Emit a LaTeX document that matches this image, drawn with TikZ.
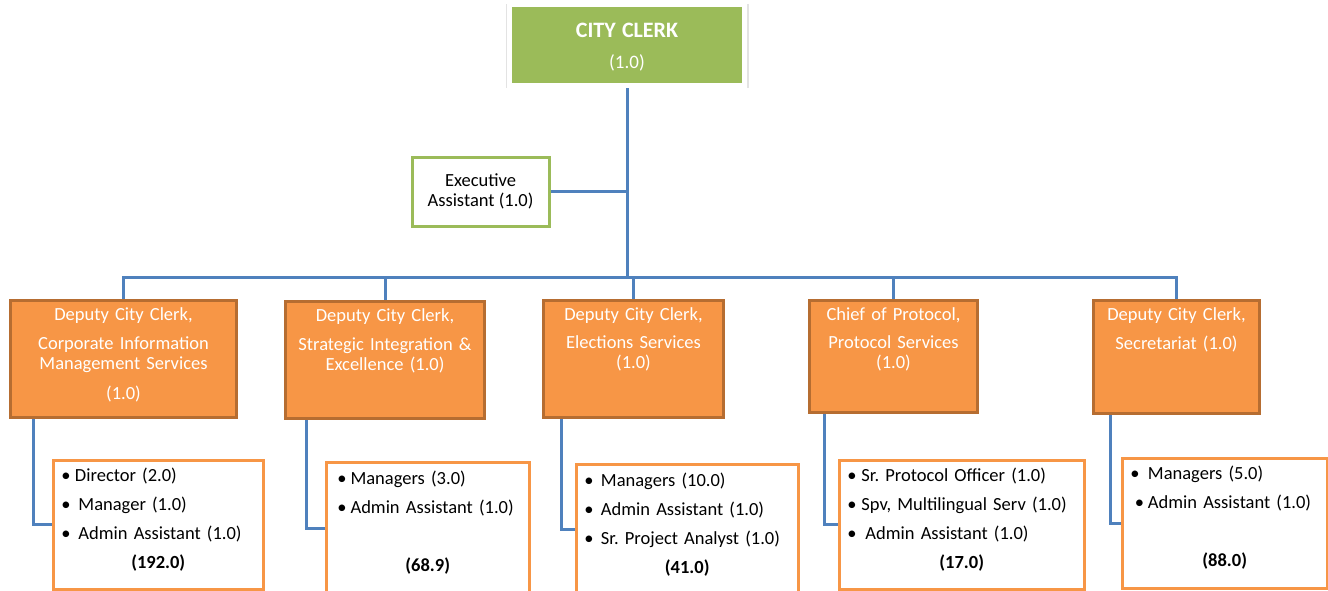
\documentclass[tikz,border=0pt]{standalone}
\usepackage{fontspec}
\setmainfont{Carlito}
\usetikzlibrary{shadows}
\definecolor{clerkgreen}{HTML}{9BBB59}
\definecolor{depfill}{HTML}{F79646}
\definecolor{depline}{HTML}{B66D31}
\definecolor{staffline}{HTML}{F79646}
\definecolor{linkblue}{HTML}{4F81BD}

\begin{document}
\frenchspacing
\begin{tikzpicture}[x=1pt,y=-1pt]
    \tikzstyle{clerk}=[rectangle,fill=clerkgreen,draw=white,line width=5pt,inner sep=0pt,text width=235pt,text height=32.5pt,text depth=48.5pt,text=white,align=center,font=\fontsize{19}{24}\selectfont,drop shadow={shadow scale=1.035,shadow xshift=.8pt,shadow yshift=-1.2pt,opacity=.22}]
    \tikzstyle{exec}=[rectangle,draw=clerkgreen,line width=3pt,fill=white,minimum width=137pt,minimum height=69pt,align=center,font=\fontsize{18.5}{20}\selectfont]
    \tikzstyle{deputy}=[rectangle,draw=depline,fill=depfill,line width=3pt,text=white,align=center,inner sep=0pt,text height=20pt,anchor=north west,font=\fontsize{18.5}{20}\selectfont]
    \tikzstyle{staff}=[rectangle,draw=staffline,fill=white,line width=2.5pt,align=left,inner xsep=8pt,inner ysep=0pt,anchor=north west,font=\fontsize{18.5}{29}\selectfont]
    \tikzstyle{link}=[draw=linkblue,line width=3pt]
    \path[use as bounding box] (0,0) rectangle (1328,590);

    % top of the chart
    \node[clerk] (clerk) at (627,45) {{\fontsize{22}{24}\selectfont\textbf{CITY CLERK}}\\[7pt](1.0)};
    \node[exec] (exec) at (480.5,191.5) {Executive\\Assistant (1.0)};
    \coordinate (hub) at (627,277);

    % deputies
    \node[deputy,text width=226pt,text depth=97pt] (dep1) at (9,299) {Deputy City Clerk,\\[9pt]Corporate Information\\Management Services\\[10pt](1.0)};
    \node[deputy,text width=199pt,text depth=97pt] (dep2) at (284,300) {Deputy City Clerk,\\[9pt]Strategic Integration \&\\Excellence (1.0)};
    \node[deputy,text width=180pt,text depth=97pt] (dep3) at (542,299) {Deputy City Clerk,\\[8pt]Elections Services\\(1.0)};
    \node[deputy,text width=168pt,text depth=92pt] (dep4) at (808,299) {Chief of Protocol,\\[8pt]Protocol Services\\(1.0)};
    \node[deputy,text width=166pt,text depth=93pt] (dep5) at (1092,299) {Deputy City Clerk,\\[9pt]Secretariat (1.0)};

    % staff under each deputy
    \node[staff,text width=194pt,text height=21pt,text depth=108pt] (sub1) at (52,459) {\textbullet\hspace{4.5pt}Director (2.0)\\\textbullet\hspace{8pt}Manager (1.0)\\\textbullet\hspace{8pt}Admin Assistant (1.0)\\\makebox[\linewidth]{\textbf{(192.0)}}};
    \node[staff,text width=187pt,text height=22pt,text depth=110pt] (sub2) at (325,461) {\,\textbullet\hspace{4pt}Managers (3.0)\\\,\textbullet\hspace{4pt}Admin Assistant (1.0)\\[29pt]\makebox[\linewidth]{\textbf{(68.9)}}};
    \node[staff,text width=206pt,text height=22pt,text depth=108pt] (sub3) at (575,463) {\textbullet\hspace{7.5pt}Managers (10.0)\\\textbullet\hspace{7.5pt}Admin Assistant (1.0)\\\textbullet\hspace{7.5pt}Sr. Project Analyst (1.0)\\\makebox[\linewidth]{\textbf{(41.0)}}};
    \node[staff,text width=229pt,text height=21pt,text depth=108pt] (sub4) at (838,459) {\textbullet\hspace{5pt}Sr. Protocol Officer (1.0)\\\textbullet\hspace{5pt}Spv, Multilingual Serv (1.0)\\\textbullet\hspace{9pt}Admin Assistant (1.0)\\\makebox[\linewidth]{\textbf{(17.0)}}};
    \node[staff,text width=189pt,text height=21pt,text depth=109pt] (sub5) at (1121,457) {\textbullet\hspace{8.5pt}Managers (5.0)\\\hspace{4.5pt}\textbullet\hspace{4pt}Admin Assistant (1.0)\\[29pt]\makebox[\linewidth]{\textbf{(88.0)}}};

    % connectors
    \draw[link] (clerk.south) -- (hub);
    \draw[link] (exec.east) -- (exec.east -| clerk.south);
    \foreach \i in {1,...,5}
        \draw[link] (hub) -| (dep\i.north);
    \foreach \i/\dx in {1/24,2/22,3/19,4/16,5/18}
        \draw[link] ([xshift=\dx pt]dep\i.south west) |- (sub\i);
\end{tikzpicture}
\end{document}
